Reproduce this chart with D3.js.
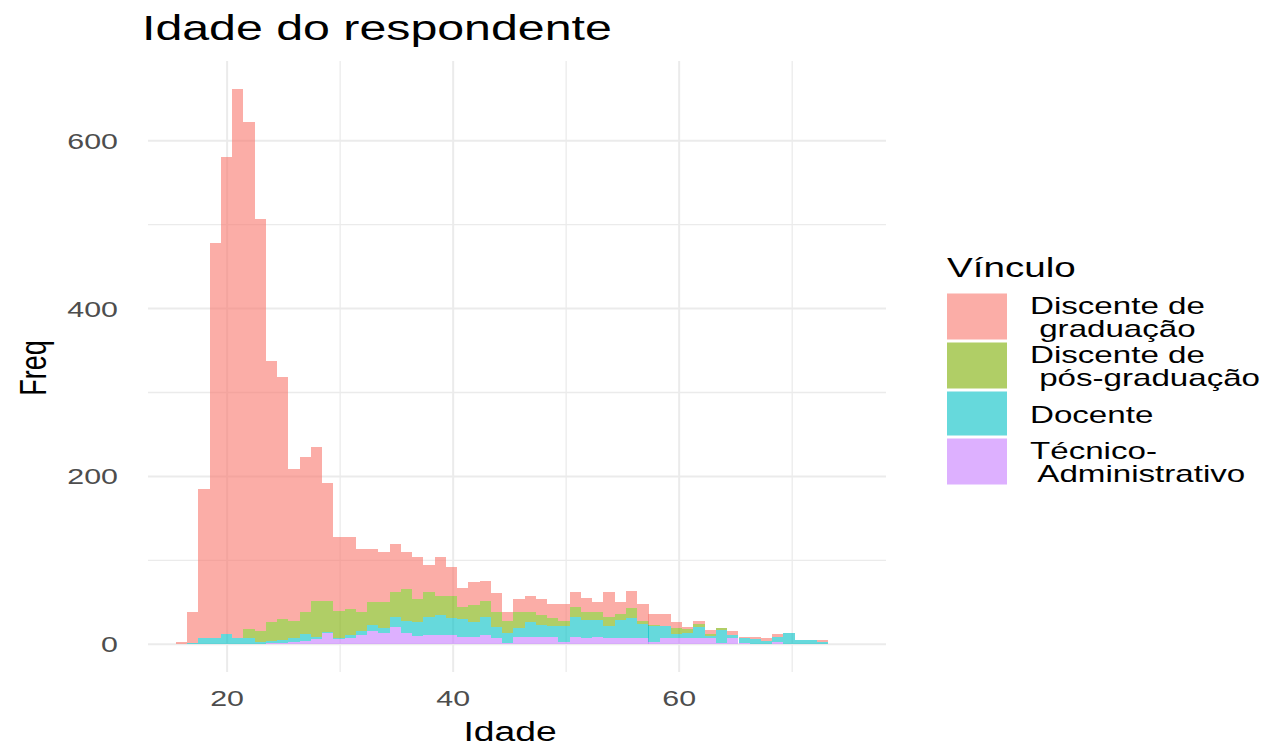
<!DOCTYPE html>
<html>
<head>
<meta charset="utf-8">
<script src="https://cdn.jsdelivr.net/npm/d3@7"></script>
<style>
  body { margin: 0; background: #fff; }
  svg text { font-family: "Liberation Sans", Arial, sans-serif; white-space: pre; }
  .grid line { stroke: #ebebeb; }
</style>
</head>
<body>
<script>
// histogram bins (lower edge in years) and counts per group
var binWidth = 0.996;
var binStart = [15.47, 16.46, 17.46, 18.45, 19.45, 20.44, 21.44, 22.43, 23.43, 24.43,
                25.42, 26.42, 27.41, 28.41, 29.40, 30.40, 31.39, 32.39, 33.39, 34.38,
                35.38, 36.37, 37.37, 38.36, 39.36, 40.36, 41.35, 42.35, 43.34, 44.34,
                45.33, 46.33, 47.32, 48.32, 49.32, 50.31, 51.31, 52.30, 53.30, 54.29,
                55.29, 56.29, 57.28, 58.28, 59.27, 60.27, 61.26, 62.26, 63.25, 64.25,
                65.25, 66.24, 67.24, 68.23, 69.23, 70.22, 71.22, 72.21];

var graduacao = [3, 36, 178, 471, 569, 655, 604, 491, 311, 288,
                 181, 185, 183, 140, 88, 86, 76, 64, 60, 57,
                 44, 50, 33, 47, 35, 22, 27, 24, 23, 10,
                 16, 19, 19, 17, 20, 17, 17, 12, 29, 14,
                 21, 20, 13, 14, 7, 3, 4, 5, 0, 5,
                 2, 3, 3, 3, 0, 0, 0, 2];
var posGrad = [0, 0, 0, 0, 0, 0, 11, 13, 22, 25,
               21, 26, 43, 37, 32, 31, 22, 27, 30, 29,
               38, 28, 29, 22, 26, 15, 21, 19, 17, 14,
               19, 12, 12, 9, 6, 12, 9, 9, 11, 7,
               12, 4, 1, 0, 7, 4, 3, 2, 2, 0,
               0, 0, 0, 0, 0, 0, 0, 0];
var docente = [0, 2, 7, 7, 12, 7, 7, 3, 3, 3,
               4, 8, 3, 1, 2, 4, 5, 7, 6, 12,
               14, 16, 22, 24, 20, 21, 17, 22, 14, 12,
               10, 17, 14, 13, 19, 24, 22, 20, 15, 21,
               24, 17, 19, 15, 5, 7, 14, 3, 16, 4,
               5, 6, 4, 6, 14, 5, 5, 3];
var tecnico = [0, 0, 0, 0, 0, 0, 0, 0, 1, 2,
               3, 4, 6, 14, 6, 7, 11, 16, 14, 21,
               14, 10, 11, 11, 11, 9, 9, 11, 7, 2,
               9, 9, 9, 9, 3, 9, 7, 9, 7, 8,
               7, 7, 3, 7, 7, 7, 7, 7, 1, 7,
               2, 0, 0, 3, 0, 0, 0, 0];

var groupKeys = ["grad", "pos", "doc", "tec"];
var groupLabels = ["Discente de\n graduação", "Discente de\n pós-graduação", "Docente", "Técnico-\n Administrativo"];
var groupColors = ["#F8766D", "#7CAE00", "#00BFC4", "#C77CFF"];

var xTicks = [20, 40, 60], xMinor = [30, 50, 70];
var yTicks = [0, 200, 400, 600], yMinor = [100, 300, 500];

// the picture is stretched sideways, so text is too
var sx = 1.38;
var w = 1273, h = 748;

var svg = d3.select("body").append("svg").attr("width", w).attr("height", h);

function label(x, y, str, size, anchor, color, rot) {
  var t = svg.append("text")
    .attr("transform", "translate(" + x + "," + y + ") scale(" + sx + ",1)" + (rot ? " rotate(" + rot + ")" : ""))
    .attr("text-anchor", anchor)
    .style("font-size", size + "px")
    .attr("fill", color);
  var lines = str.split("\n");
  lines.forEach(function(l, i) {
    t.append("tspan").attr("x", 0).attr("y", i * 24).text(l);
  });
  return t;
}

var xScale = d3.scaleLinear().domain([13.0, 78.3]).range([148, 886]);
var yScale = d3.scaleLinear().domain([-33.1, 695.1]).range([672.1, 60.9]);

// grid
var grid = svg.append("g").attr("class", "grid");
grid.selectAll(".ymin").data(yMinor).enter().append("line")
  .attr("x1", 148).attr("x2", 886)
  .attr("y1", function(d) { return yScale(d); }).attr("y2", function(d) { return yScale(d); })
  .attr("stroke-width", 1.3);
grid.selectAll(".xmin").data(xMinor).enter().append("line")
  .attr("y1", 61).attr("y2", 672)
  .attr("x1", function(d) { return xScale(d); }).attr("x2", function(d) { return xScale(d); })
  .attr("stroke-width", 1.3);
grid.selectAll(".ymaj").data(yTicks).enter().append("line")
  .attr("x1", 148).attr("x2", 886)
  .attr("y1", function(d) { return yScale(d); }).attr("y2", function(d) { return yScale(d); })
  .attr("stroke-width", 2);
grid.selectAll(".xmaj").data(xTicks).enter().append("line")
  .attr("y1", 61).attr("y2", 672)
  .attr("x1", function(d) { return xScale(d); }).attr("x2", function(d) { return xScale(d); })
  .attr("stroke-width", 2);

// stacked bars
var rows = binStart.map(function(b, i) {
  return { start: b, grad: graduacao[i], pos: posGrad[i], doc: docente[i], tec: tecnico[i] };
});
var stack = d3.stack().keys(["tec", "doc", "pos", "grad"]);
var layers = stack(rows);

svg.selectAll(".layer").data(layers).enter().append("g")
  .attr("fill", function(d) { return groupColors[groupKeys.indexOf(d.key)]; })
  .attr("fill-opacity", 0.6)
  .selectAll("rect").data(function(d) { return d; }).enter().append("rect")
    .attr("shape-rendering", "crispEdges")
    .attr("x", function(d) { return xScale(d.data.start); })
    .attr("width", function(d) { return xScale(d.data.start + binWidth) - xScale(d.data.start); })
    .attr("y", function(d) { return yScale(d[1]); })
    .attr("height", function(d) { return yScale(d[0]) - yScale(d[1]); });

// axes text
yTicks.forEach(function(t) { label(118, yScale(t) + 8, String(t), 22, "end", "#4d4d4d"); });
xTicks.forEach(function(t) { label(xScale(t), 706, String(t), 22, "middle", "#4d4d4d"); });
label(510, 741, "Idade", 27, "middle", "#000");
label(46, 368, "Freq", 27, "middle", "#000", -90);
label(142, 40, "Idade do respondente", 35, "start", "#000");

// legend
label(947, 277, "Vínculo", 28, "start", "#000");
var ky = 292;
groupLabels.forEach(function(g, i) {
  var n = g.split("\n").length;
  var kh = n > 1 ? 49 : 47;
  svg.append("rect")
    .attr("x", 947).attr("y", ky + 1.5).attr("width", 60).attr("height", kh - 3)
    .attr("fill", groupColors[i]).attr("fill-opacity", 0.6);
  label(1030, ky + kh / 2 - (n - 1) * 12 + 9, g, 24, "start", "#000");
  ky += kh;
});
</script>
</body>
</html>
